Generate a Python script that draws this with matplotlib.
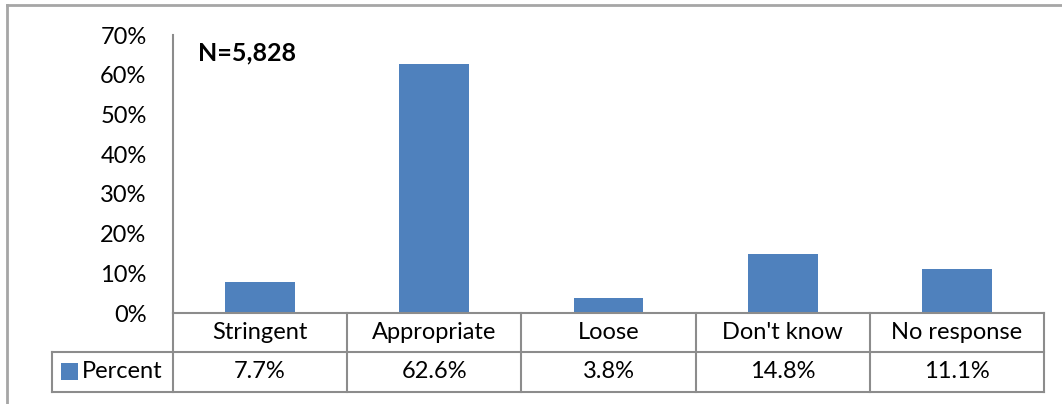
import matplotlib.pyplot as plt
from matplotlib.lines import Line2D
from matplotlib.patches import Rectangle

categories = ["Stringent", "Appropriate", "Loose", "Don't know", "No response"]
percent = [7.7, 62.6, 3.8, 14.8, 11.1]
series_name = "Percent"
yticks = [0, 10, 20, 30, 40, 50, 60, 70]
note = "N=5,828"

bar_color = "#4F81BD"
grid_gray = "#8C8C8C"
W, H = 1062, 404
fs = 17

plt.rcParams['font.family'] = ['Lato', 'DejaVu Sans']

fig = plt.figure(figsize=(W / 100, H / 100), dpi=100)


def fx(px):
    return px / W


def fy(py):
    return 1 - py / H


# plot area in pixels
left, right, top, base = 173, 1044, 35, 313
row1, row2 = 352, 392
legend_left = 52

ax = fig.add_axes([fx(left), fy(base), fx(right) - fx(left), fy(top) - fy(base)])
x = list(range(len(categories)))
ax.bar(x, [p / 100 for p in percent], width=0.4, color=bar_color)
ax.set_xlim(-0.5, len(categories) - 0.5)
ax.set_ylim(0, 0.7)
ax.set_yticks([t / 100 for t in yticks])
ax.set_yticklabels([f"{t}%" for t in yticks], fontsize=fs)
ax.tick_params(axis='y', length=0, pad=19)
ax.set_xticks([])
for s in ['top', 'right', 'bottom']:
    ax.spines[s].set_visible(False)
ax.spines['left'].set_color(grid_gray)
ax.spines['left'].set_linewidth(1.5)

ax.text(0.029, 0.935, note, transform=ax.transAxes, fontsize=18,
        fontweight='bold', va='center', ha='left')

# outer chart border
fig.add_artist(Line2D([fx(7), fx(7)], [fy(5), 0], color="#A6A6A6", lw=2))
fig.add_artist(Line2D([fx(7), 1], [fy(5), fy(5)], color="#A6A6A6", lw=2))

# data table
lw = 1.5
fig.add_artist(Line2D([fx(left), fx(right)], [fy(base), fy(base)], color=grid_gray, lw=lw))
for yy in (row1, row2):
    fig.add_artist(Line2D([fx(legend_left), fx(right)], [fy(yy), fy(yy)], color=grid_gray, lw=lw))
fig.add_artist(Line2D([fx(legend_left), fx(legend_left)], [fy(row1), fy(row2)], color=grid_gray, lw=lw))
fig.add_artist(Line2D([fx(left), fx(left)], [fy(base), fy(row2)], color=grid_gray, lw=lw))
col_w = (right - left) / len(categories)
for i in range(1, len(categories) + 1):
    xx = left + i * col_w
    fig.add_artist(Line2D([fx(xx), fx(xx)], [fy(base), fy(row2)], color=grid_gray, lw=lw))

for i, (c, p) in enumerate(zip(categories, percent)):
    cx = left + (i + 0.5) * col_w
    fig.text(fx(cx), fy((base + row1) / 2), c, ha='center', va='center', fontsize=fs)
    fig.text(fx(cx), fy((row1 + row2) / 2), f"{p:.1f}%", ha='center', va='center', fontsize=fs)

fig.add_artist(Rectangle((fx(61), fy(380)), fx(17), fy(363) - fy(380),
                         facecolor=bar_color, edgecolor='none'))
fig.text(fx(82), fy((row1 + row2) / 2), series_name, ha='left', va='center', fontsize=fs)

fig.savefig("out.png", dpi=100)
